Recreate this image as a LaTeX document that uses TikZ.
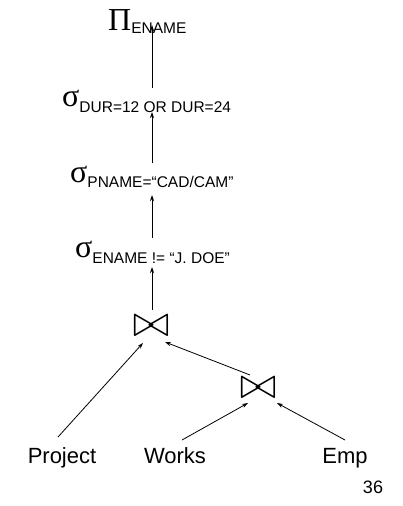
\documentclass[tikz,border=0pt]{standalone}
\usepackage{graphicx}
\usepackage{fontspec}
\setmainfont{Liberation Sans}
\newfontfamily\greekfont{Liberation Serif}
\usetikzlibrary{arrows.meta,calc}

% operator with a lowered subscript
\newcommand{\opsub}[3]{{\greekfont\fontsize{32}{32}\selectfont #1}\raisebox{-#3}{\fontsize{15.5}{16}\selectfont #2}}

\begin{document}
\begin{tikzpicture}[
    x=1pt, y=-1pt,
    op/.style={inner sep=0pt, anchor=base west},
    joinop/.style={inner sep=0pt, font=\fontsize{24}{24}\selectfont},
    rel/.style={inner sep=0pt, anchor=base, font=\fontsize{22}{24}\selectfont},
    arrow/.style={-{Stealth[length=6pt,width=4pt]}, line width=0.8pt},
]
\useasboundingbox (0,0) rectangle (403,506);

\node[op] (pi) at (108,30)  {\opsub{Π}{ENAME}{3pt}};
\node[op] (s1) at (62,106)  {\opsub{σ}{DUR=12 OR DUR=24}{6pt}};
\node[op] (s2) at (70,182)  {\opsub{σ}{PNAME=“CAD/CAM”}{5pt}};
\node[op] (s3) at (75,257)  {\opsub{σ}{ENAME != “J. DOE”}{6pt}};

\node[joinop] (j1) at (151,326) {\scalebox{1.8}{$\bowtie$}};
\node[joinop] (j2) at (258,388) {\scalebox{1.8}{$\bowtie$}};

\node[rel] (proj)  at (62,463)  {Project};
\node[rel] (works) at (175,463) {Works};
\node[rel] (emp)   at (345,463) {Emp};

\node[inner sep=0pt, anchor=base, font=\fontsize{18}{20}\selectfont] (page) at (373,493) {36};

\draw[arrow] ($(j1.center)+(1,-16)$) -- ($(j1 |- s3.base)+(1,10)$);
\draw[arrow] ($(j1 |- s3.base)+(1,-19)$) -- ($(j1 |- s2.base)+(1,13)$);
\draw[arrow] ($(j1 |- s2.base)+(1,-19)$) -- ($(j1 |- s1.base)+(1,6)$);
\draw[arrow] ($(j1 |- s1.base)+(1,-18)$) -- ($(j1 |- pi.base)+(1,-5)$);

\draw[arrow] ($(proj.base)+(-4,-26)$) -- ($(j1.center)+(-8,17)$);
\draw[arrow] ($(j2.center)+(-8,-13)$) -- ($(j1.center)+(14,16)$);
\draw[arrow] ($(works.base)+(7,-23)$) -- ($(j2.center)+(-10,15)$);
\draw[arrow] ($(emp.base)+(0,-23)$) -- ($(j2.center)+(19,15)$);
\end{tikzpicture}
\end{document}
